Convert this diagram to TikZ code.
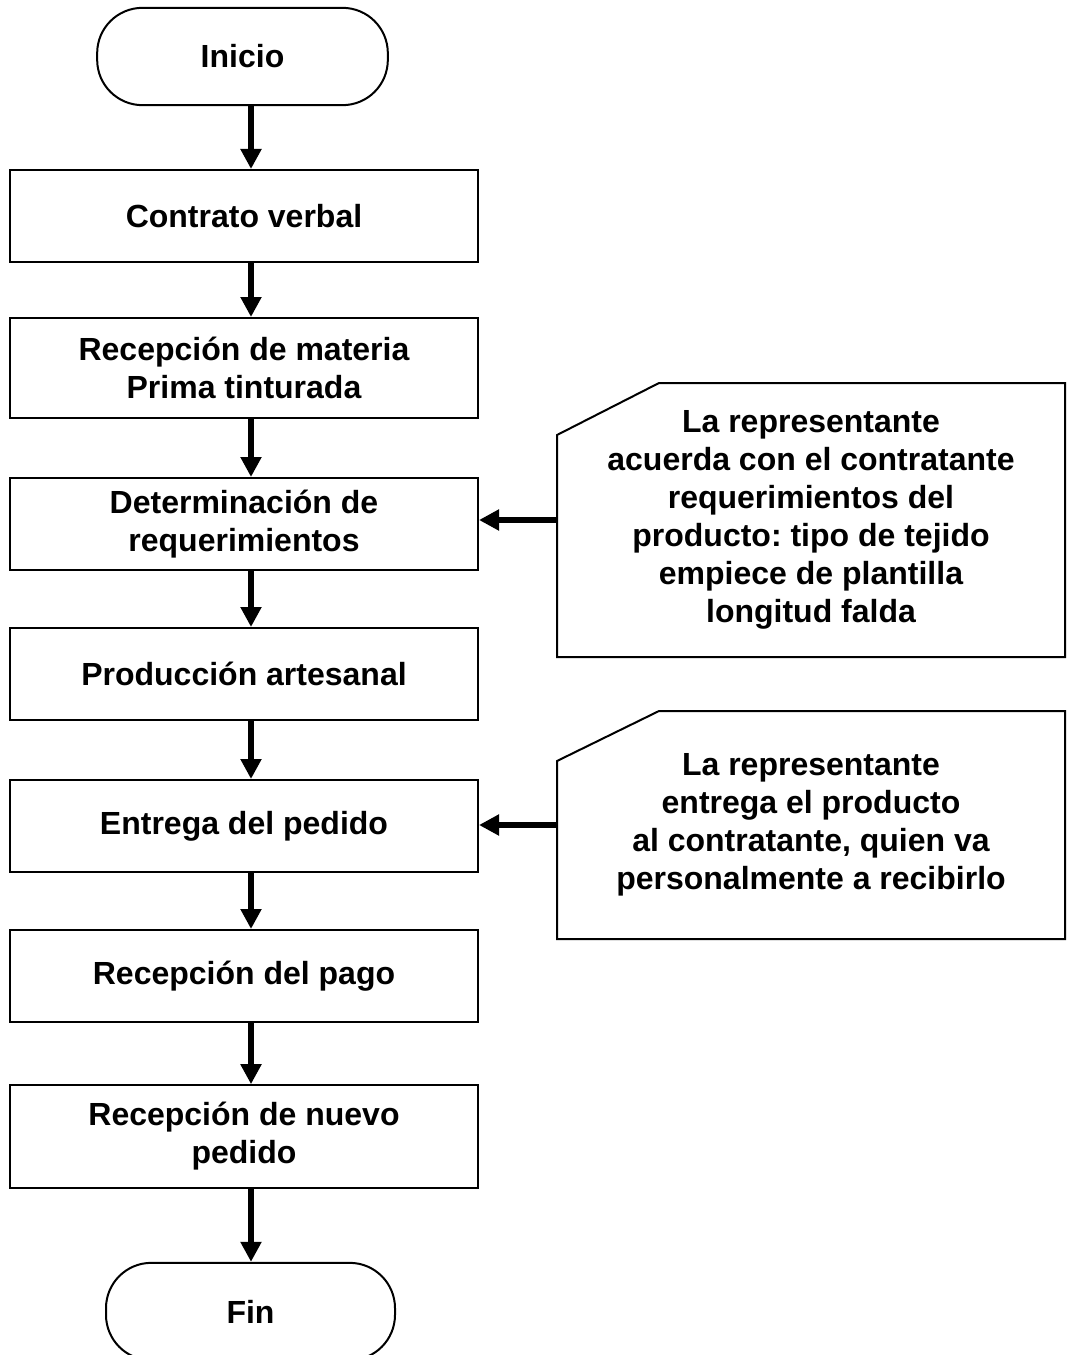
\documentclass[tikz,border=0pt]{standalone}
\usepackage{fontspec}
\setmainfont{Liberation Sans}
\usetikzlibrary{arrows.meta}
\frenchspacing

\begin{document}
\begin{tikzpicture}[x=0.75pt, y=-0.75pt, line width=1.5pt,
  font=\bfseries\fontsize{24}{28.5}\selectfont,
  terminal/.style={draw, rounded corners=34pt, minimum width=218pt, minimum height=73pt},
  stepbox/.style={draw, minimum width=351pt, minimum height=69pt, align=center},
  note/.style={minimum width=379.5pt, align=center},
  flow/.style={line width=4pt, -{Triangle[length=15pt,width=15pt]}}]
  \useasboundingbox (0,0) rectangle (1069,1355);
  \clip (0,0) rectangle (1069,1355);
  % columna principal
  \node[terminal] (inicio) at (242.5,56.5) {Inicio};
  \node[stepbox] (contrato) at (244,216) {Contrato verbal};
  \node[stepbox, minimum height=75pt] (materia) at (244,368) {Recepción de materia\\ Prima tinturada};
  \node[stepbox] (requis) at (244,524) {Determinación de\\requerimientos};
  \node[stepbox] (produccion) at (244,674) {Producción artesanal};
  \node[stepbox] (entrega) at (244,826) {Entrega del pedido};
  \node[stepbox] (pago) at (244,976) {Recepción del pago};
  \node[stepbox, minimum height=77pt] (nuevo) at (244,1136.5) {Recepción de nuevo\\pedido};
  \node[terminal, minimum width=216.75pt] (fin) at (250.5,1311.5) {Fin};
  % flechas verticales
  \coordinate (eje) at (251,0);
  \foreach \a/\b in {inicio/contrato, contrato/materia, materia/requis, requis/produccion,
    produccion/entrega, entrega/pago, pago/nuevo, nuevo/fin}
    \draw[flow] (\a.south -| eje) -- (\b.north -| eje);
  % notas laterales
  \node[note, minimum height=204pt] (nota1) at (811,520) {La representante\\acuerda con el contratante\\requerimientos del\\producto: tipo de tejido\\empiece de plantilla\\longitud falda};
  \draw ([yshift=-39pt]nota1.north west) -- ([xshift=76.5pt]nota1.north west) -- (nota1.north east)
    -- (nota1.south east) -- (nota1.south west) -- cycle;
  \node[note, minimum height=169.5pt] (nota2) at (811,825) {La representante\\entrega el producto\\al contratante, quien va\\personalmente a recibirlo};
  \draw ([yshift=-37.5pt]nota2.north west) -- ([xshift=76.5pt]nota2.north west) -- (nota2.north east)
    -- (nota2.south east) -- (nota2.south west) -- cycle;
  \draw[flow] (nota1.west) -- (nota1.west -| requis.east);
  \draw[flow] (nota2.west) -- (nota2.west -| entrega.east);
\end{tikzpicture}
\end{document}
